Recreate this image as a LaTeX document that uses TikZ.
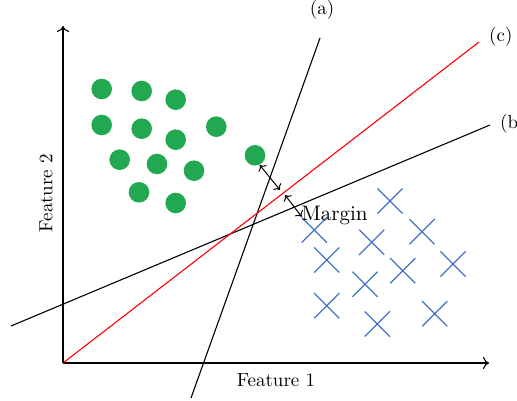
\documentclass[tikz,border=0pt]{standalone}
\usepackage{tikz}
\usetikzlibrary{shapes.misc,arrows.meta}
\definecolor{dotgreen}{RGB}{34,168,80}
\definecolor{crossblue}{RGB}{68,114,196}

\begin{document}
\begin{tikzpicture}[x=0.5pt,y=-0.5pt,line width=0.55pt,
    every node/.style={font=\fontsize{9.5}{11}\selectfont},
    dot/.style={circle,fill=dotgreen,inner sep=0pt,minimum size=10.3pt},
    mark x/.style={cross out,draw=crossblue,line width=0.6pt,inner sep=0pt,minimum size=12pt}]
        \useasboundingbox (0,0) rectangle (517,400);
        % axes
        \coordinate (o) at (63,363);
        \coordinate (xend) at (489,363);
        \coordinate (yend) at (63,26);
        \draw[-{To[length=3pt,width=6pt]}] (o) -- (xend);
        \draw[-{To[length=3pt,width=6pt]}] (o) -- (yend);
        \node (f1) at (276,380) {Feature 1};
        \node[rotate=90] (f2) at (46,193) {Feature 2};
        % class 1
        \foreach \x/\y in {101.7/89,141.7/91,175.7/99.7,101.7/125,141.7/128.7,175.7/139.7,
                216.3/126.7,119.7/159.7,157/164,194/170.7,139/192.3,175.7/203}
            \node[dot] at (\x,\y) {};
        \node[dot] (sv) at (255,155.3) {};
        % class 2
        \foreach \x/\y in {390/201,314.3/230,371.7/242.3,422/231.7,326.7/260,402.7/270.7,
                453/264,365/284.3,326.7/305.7,434.7/313.7,377.3/324}
            \node[mark x] at (\x,\y) {};
        % separating lines
        \coordinate (a0) at (191,398);
        \coordinate (a1) at (320,38);
        \coordinate (b0) at (11,326);
        \coordinate (b1) at (490,125);
        \coordinate (c1) at (479,42);
        \draw (a0) -- (a1);
        \draw (b0) -- (b1);
        \draw[red] (o) -- (c1);
        \node[anchor=south] (la) at (322,26) {(a)};
        \node[anchor=west] (lb) at (493,124) {(b)};
        \node[anchor=west] (lc) at (482,37) {(c)};
        % margin
        \coordinate (m0) at (259.7,165);
        \coordinate (m1) at (280,190);
        \coordinate (m2) at (285,195);
        \coordinate (m3) at (301.7,216.7);
        \draw[{To[length=2.5pt,width=5pt]}-{To[length=2.5pt,width=5pt]},line width=0.5pt] (m0) -- (m1);
        \draw[{To[length=2.5pt,width=5pt]}-{To[length=2.5pt,width=5pt]},line width=0.5pt] (m2) -- (m3);
        \node[anchor=west,inner sep=0pt,font=\fontsize{10.5}{12}\selectfont] (mg) at (301,215) {Margin};
    \end{tikzpicture}
\end{document}
